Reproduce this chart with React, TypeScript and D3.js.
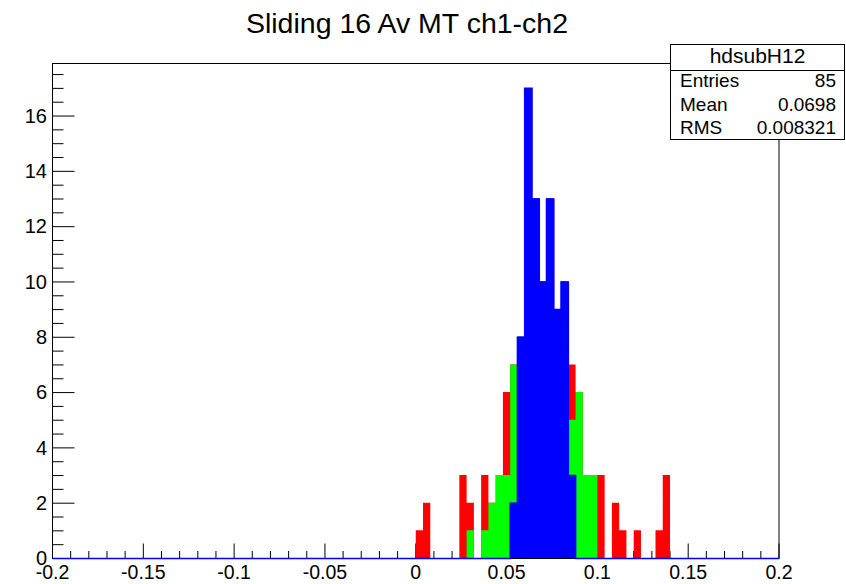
import React from "react";
import * as d3 from "d3";

// ---- data ----
const title = "Sliding 16 Av MT ch1-ch2";
const xDomain: [number, number] = [-0.2, 0.2];
const yDomain: [number, number] = [0, 17.9];
const binWidth = 0.004;
const firstBinLow = 0.0; // bins below are empty
const redCounts = [1, 2, 0, 0, 0, 0, 3, 2, 0, 3, 2, 3, 6, 7, 8, 17, 13, 10, 13, 9, 10, 7, 6, 3, 3, 3, 0, 2, 1, 0, 1, 0, 0, 1, 3];
const greenCounts = [0, 0, 0, 0, 0, 0, 0, 1, 0, 1, 2, 3, 3, 7, 8, 17, 13, 10, 13, 9, 10, 5, 6, 3, 3, 0, 0, 0, 0, 0, 0, 0, 0, 0, 0];
const blueCounts = [0, 0, 0, 0, 0, 0, 0, 0, 0, 0, 0, 0, 0, 2, 8, 17, 13, 10, 13, 9, 10, 3, 0, 0, 0, 0, 0, 0, 0, 0, 0, 0, 0, 0, 0];
const xMajorTicks = [-0.2, -0.15, -0.1, -0.05, 0, 0.05, 0.1, 0.15, 0.2];
const xTickLabels = ["-0.2", "-0.15", "-0.1", "-0.05", "0", "0.05", "0.1", "0.15", "0.2"];
const yMajorTicks = [0, 2, 4, 6, 8, 10, 12, 14, 16];
const statsName = "hdsubH12";
const statsLabels = ["Entries", "Mean", "RMS"];
const statsValues = ["85", "0.0698", "0.008321"];

const W = 846;
const H = 584;
const FONT = "'Liberation Sans', Arial, Helvetica, sans-serif";

export default function App() {
  const left = 52.5, right = 779, top = 63, bottom = 558;
  const xs = d3.scaleLinear().domain(xDomain).range([left, right]);
  const ys = d3.scaleLinear().domain(yDomain).range([bottom, top]);

  const pts = (counts: number[]) => {
    const p: [number, number][] = counts.map((v, i) => [firstBinLow + i * binWidth, v]);
    p.push([firstBinLow + counts.length * binWidth, counts[counts.length - 1]]);
    return p;
  };
  const area = d3
    .area<[number, number]>()
    .x((d) => xs(d[0]))
    .y0(ys(0))
    .y1((d) => ys(d[1]))
    .curve(d3.curveStepAfter);

  const outlinePts: [number, number][] = [[xDomain[0], 0]];
  blueCounts.forEach((v, i) => outlinePts.push([firstBinLow + i * binWidth, v]));
  outlinePts.push([firstBinLow + blueCounts.length * binWidth, 0]);
  outlinePts.push([xDomain[1], 0]);
  const line = d3
    .line<[number, number]>()
    .x((d) => xs(d[0]))
    .y((d) => ys(d[1]))
    .curve(d3.curveStepAfter);

  const xMinor = d3.range(-20, 21).map((k) => k / 100).filter((v) => Math.abs(Math.round(v * 100) % 5) !== 0);
  const yMinor = d3.range(0, Math.floor(yDomain[1] * 2) + 1).map((k) => k / 2).filter((v) => v % 2 !== 0);

  const box = { x0: 670.5, x1: 844.5, y0: 44.5, y1: 139.5, sep: 70.5 };
  const rowBase = [87, 111, 134];

  return (
    <svg width={W} height={H} style={{ position: "absolute", left: 0, top: 0, background: "#fff" }} fontFamily={FONT}>
      <rect x={0} y={0} width={W} height={H} fill="#fff" />
      {/* frame */}
      <rect x={left} y={top + 0.5} width={right - left} height={bottom + 0.5 - top - 0.5} fill="none" stroke="#000" strokeWidth={1} />
      {/* x ticks */}
      {xMajorTicks.map((t) => (
        <line key={"xm" + t} x1={xs(t)} x2={xs(t)} y1={bottom + 0.5} y2={bottom + 0.5 - 15} stroke="#000" />
      ))}
      {xMinor.map((t) => (
        <line key={"xn" + t} x1={xs(t)} x2={xs(t)} y1={bottom + 0.5} y2={bottom + 0.5 - 7.5} stroke="#000" />
      ))}
      {/* y ticks */}
      {yMajorTicks.map((t) => (
        <line key={"ym" + t} x1={left} x2={left + 22} y1={ys(t) + 0.5} y2={ys(t) + 0.5} stroke="#000" />
      ))}
      {yMinor.map((t) => (
        <line key={"yn" + t} x1={left} x2={left + 11} y1={ys(t) + 0.5} y2={ys(t) + 0.5} stroke="#000" />
      ))}
      {/* histograms */}
      <path d={area(pts(redCounts)) || ""} fill="#ff0000" />
      <path d={area(pts(greenCounts)) || ""} fill="#00ff00" />
      <path d={area(pts(blueCounts)) || ""} fill="#0000ff" />
      <path d={line(outlinePts) || ""} fill="none" stroke="#0000ff" strokeWidth={1.6} transform="translate(0,0.5)" />
      {/* tick labels */}
      {xMajorTicks.map((t, i) => (
        <text key={"xl" + t} x={xs(t)} y={578.5} fontSize={19.5} textAnchor="middle" fill="#000">
          {xTickLabels[i]}
        </text>
      ))}
      {yMajorTicks.map((t) => (
        <text key={"yl" + t} x={47} y={ys(t) + 7.2} fontSize={20} textAnchor="end" fill="#000">
          {String(t)}
        </text>
      ))}
      {/* title */}
      <text x={407} y={33} fontSize={28.5} textAnchor="middle" fill="#000">
        {title}
      </text>
      {/* stats box */}
      <rect x={box.x0} y={box.y0} width={box.x1 - box.x0} height={box.y1 - box.y0} fill="#fff" stroke="#000" />
      <line x1={box.x0} x2={box.x1} y1={box.sep} y2={box.sep} stroke="#000" />
      <text x={(box.x0 + box.x1) / 2} y={63} fontSize={21} textAnchor="middle" fill="#000">
        {statsName}
      </text>
      {statsLabels.map((l, i) => (
        <g key={l}>
          <text x={680} y={rowBase[i]} fontSize={19} fill="#000">
            {l}
          </text>
          <text x={836} y={rowBase[i]} fontSize={19} textAnchor="end" fill="#000">
            {statsValues[i]}
          </text>
        </g>
      ))}
    </svg>
  );
}
